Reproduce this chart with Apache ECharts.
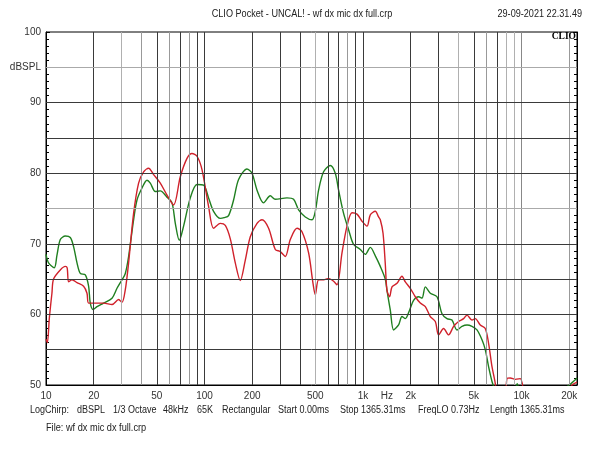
<!DOCTYPE html>
<html><head><meta charset="utf-8">
<script src="https://cdn.jsdelivr.net/npm/echarts@6/dist/echarts.min.js"></script>
<style>html,body{margin:0;padding:0;background:#fff}#c{width:600px;height:450px}</style>
</head><body><div id="c"></div>
<script>
// ---- data ----
const freqGreen = [10,10.38,11.28,11.73,12.31,13.24,14.23,14.93,15.69,16.46,17.70,18.57,19.03,19.80,20.98,23.09,26.09,28.05,30.16,31.65,33.20,35.70,37.51,40.34,43.38,45.50,48.93,52.62,58.00,62.37,65.44,69.34,73.81,81.36,89.67,98.70,106.1,114.1,125.8,133,141.9,152.6,164.1,185.4,199.4,214.5,236.0,260.1,279.7,331.5,364.9,392.4,432.5,476.8,500.1,524.7,564.1,621.8,668.6,701.6,754.4,811.2,872.4,961.6,1034,1112,1196,1286,1382,1417,1487,1560,1677,1762,1849,1968,2085,2243,2357,2473,2658,2930,3151,3388,3643,3918,4214,4532,4872,5239,5634,5909,6200,6515,6835,7200,8800,9400,10000,15000,19500,20300,21500,22400];
const dbGreen   = [68.5,67.3,66.6,68.4,70.6,71.1,70.9,69.6,67.3,65.8,65.6,64.0,61.6,60.7,61.1,61.6,62.3,63.7,64.9,65.8,68.2,73.4,76.2,77.9,79.0,78.6,77.4,77.5,76.6,75.8,72.9,70.5,72.5,76.5,78.4,78.3,76.5,74.6,73.6,73.7,74.0,76.2,79.1,80.6,80.0,77.6,75.8,76.8,76.3,76.5,76.3,74.8,73.8,73.4,74.6,77.6,80.2,81.1,80.0,77.6,74.3,72.0,69.9,69.2,68.5,69.5,68.3,66.8,65.0,63.4,60.6,57.8,58.5,59.7,59.4,60.6,62.0,62.5,62.3,63.9,63.0,62.5,60.1,59.4,59.2,57.8,58.3,58.5,58.3,57.8,56.4,55.0,52.6,50.5,49.0,46.0,48.0,50.2,48.0,45.0,49.8,50.1,50.6,51.0];
const freqRed = [10,10.2,10.5,10.9,11.16,12.31,13.24,13.6,13.89,14.59,15.69,17.27,18.14,18.57,20.47,23.09,26.09,28.71,30.16,31.65,33.20,35.70,38.39,41.29,44.40,47.74,52.62,58.00,63.83,70.36,77.55,83.39,89.67,96.43,106.1,114.1,125.8,135.3,145.5,156.4,168.2,180.9,194.5,214.5,230.6,253.8,279.7,300.8,323.4,347.8,383.4,412.2,453.8,483.7,500.1,524.7,564.1,606.7,652.3,685.5,737.1,792.6,852.3,916.6,985.6,1060,1112,1196,1254,1286,1338,1382,1417,1472,1524,1639,1762,1849,1988,2138,2299,2473,2658,2859,2999,3226,3468,3729,4010,4313,4532,4872,5111,5497,5909,6200,6515,6835,7100,7800,8101,8500,9140,9826,10310,10700,18000,20500,22400];
const dbRed   = [56.5,56.0,59.5,63.0,65.0,66.3,66.8,66.6,64.6,64.9,64.5,64.0,63.0,61.6,61.6,61.6,61.4,62.1,61.7,63.5,67.3,74.3,78.6,80.2,80.7,79.8,78.6,76.9,75.5,79.5,82.1,82.8,82.4,80.5,75.3,72.2,72.9,72.6,70.7,67.3,64.8,67.7,71.0,72.9,73.4,72.2,69.2,68.9,68.2,70.6,72.2,71.7,68.7,64.4,62.8,64.9,64.9,65.1,64.7,64.2,68.7,72.5,74.4,74.2,73.2,72.5,74.1,74.6,73.8,73.4,71.5,67.2,63.4,62.5,63.9,64.4,65.4,64.6,63.7,62.5,61.6,61.1,59.7,59.0,57.1,58.0,57.1,58.3,59.0,59.4,59.9,59.2,59.4,58.5,58.0,55.9,52.6,50.2,47.0,47.0,50.9,51.0,50.8,50.9,49.0,46.0,46.0,49.8,50.4];
const xTickFreqs  = [10,20,50,100,200,500,1000,1414,2000,5000,10000,20000];
const xTickLabels = ['10','20','50','100','200','500','1k','Hz','2k','5k','10k','20k'];
const yTickValues = [50,60,70,80,90,95,100];
const yTickLabels = ['50','60','70','80','90','dBSPL','100'];
const gridFreqs  = [20,30,40,50,60,70,80,90,100,200,300,400,500,600,700,800,900,1000,2000,3000,4000,5000,6000,7000,8000,9000,10000,20000];
const gridLevels = [55,60,65,70,75,80,85,90,95];
const titleText = 'CLIO Pocket - UNCAL! - wf dx mic dx full.crp';
const dateText = '29-09-2021 22.31.49';
const footerTexts = ['LogChirp:','dBSPL','1/3 Octave','48kHz','65K','Rectangular','Start 0.00ms','Stop 1365.31ms','FreqLO 0.73Hz','Length 1365.31ms'];
const fileText = 'File: wf dx mic dx full.crp';

// ---- layout / style ----
const FONT = '"Liberation Sans", Arial, sans-serif';
const XMAX = 22400;
const lightV = {30:'#b0b0b0',40:'#999',60:'#999',80:'#999',500:'#b0b0b0',800:'#999',4000:'#b0b0b0',6000:'#999',8000:'#b0b0b0',9000:'#b0b0b0',10000:'#888',20000:'#999'};
const lightH = {75:'#aaa',95:'#aaa'};
const footerX = [30,77,113,163,197,222,278,340,418,490];

const gridLines = [];
gridFreqs.forEach(f => gridLines.push({xAxis: f, lineStyle:{color: lightV[f] || '#3a3a3a', width:1, type:'solid'}}));
gridLevels.forEach(v => gridLines.push({yAxis: v, lineStyle:{color: lightH[v] || '#3a3a3a', width:1, type:'solid'}}));

const chart = echarts.init(document.getElementById('c'), null, {renderer:'canvas'});
const graphic = [
  {type:'text', x:302, y:14, scaleX:0.91, style:{text:titleText, font:'10px '+FONT, fill:'#222', textAlign:'center', textVerticalAlign:'middle'}},
  {type:'text', x:582, y:14, scaleX:0.91, style:{text:dateText, font:'10px '+FONT, fill:'#222', textAlign:'right', textVerticalAlign:'middle'}},
  {type:'text', x:576, y:37, style:{text:'CLIO', font:'bold 9.5px "Liberation Serif", "Times New Roman", serif', fill:'#000', textAlign:'right', textVerticalAlign:'middle'}, z:10},
  {type:'text', x:46, y:428, scaleX:0.92, style:{text:fileText, font:'10px '+FONT, fill:'#222', textAlign:'left', textVerticalAlign:'middle'}}
];
footerTexts.forEach((t,i) => graphic.push({type:'text', x:footerX[i], y:410, scaleX:0.9, style:{text:t, font:'10px '+FONT, fill:'#222', textAlign:'left', textVerticalAlign:'middle'}}));

chart.setOption({
  animation:false,
  backgroundColor:'#fff',
  grid:{left:46, top:32, width:531, height:353, show:true, borderColor:'#000', borderWidth:1, backgroundColor:'transparent', containLabel:false},
  xAxis:[
    {type:'log', logBase:10, min:10, max:XMAX, position:'bottom', axisLine:{show:true, lineStyle:{color:'#000', width:1}}, axisTick:{show:false}, axisLabel:{show:false}, splitLine:{show:false}},
    {type:'value', min:1, max:Math.log10(XMAX), position:'bottom', axisLine:{show:false}, axisTick:{show:false}, splitLine:{show:false},
     axisLabel:{customValues: xTickFreqs.map(f => Math.log10(f)), fontSize:10, fontFamily:FONT, color:'#333', margin:6,
       formatter: v => { const i = xTickFreqs.findIndex(f => Math.abs(Math.log10(f) - v) < 1e-6); return i >= 0 ? xTickLabels[i] : ''; }}}
  ],
  yAxis:[
    {type:'value', min:50, max:100, interval:5, position:'left', axisLine:{show:true, lineStyle:{color:'#000'}},
     axisTick:{show:true, inside:true, length:4, lineStyle:{color:'#000'}}, minorTick:{show:true, splitNumber:5, length:3, lineStyle:{color:'#000'}},
     splitLine:{show:false},
     axisLabel:{fontSize:10, fontFamily:FONT, color:'#333', margin:5,
       formatter: v => { const i = yTickValues.indexOf(v); return i >= 0 ? yTickLabels[i] : ''; }}},
    {type:'value', min:50, max:100, interval:5, position:'right', axisLine:{show:true, lineStyle:{color:'#000'}},
     axisTick:{show:true, inside:true, length:4, lineStyle:{color:'#000'}}, minorTick:{show:true, splitNumber:5, length:3, lineStyle:{color:'#000'}},
     splitLine:{show:false}, axisLabel:{show:false}}
  ],
  graphic: graphic,
  series:[
    {type:'line', name:'grid', xAxisIndex:0, yAxisIndex:0, data:[], z:1, silent:true,
     markLine:{silent:true, symbol:['none','none'], label:{show:false}, animation:false, data:gridLines}},
    {type:'line', name:'green', xAxisIndex:0, yAxisIndex:0, z:3, showSymbol:false, smooth:0.3, clip:true,
     lineStyle:{color:'#1f7f1f', width:1.4}, itemStyle:{color:'#1f7f1f'},
     data: freqGreen.map((f,i) => [f, dbGreen[i]])},
    {type:'line', name:'red', xAxisIndex:0, yAxisIndex:0, z:4, showSymbol:false, smooth:0.3, clip:true,
     lineStyle:{color:'#d0212b', width:1.4}, itemStyle:{color:'#d0212b'},
     data: freqRed.map((f,i) => [f, dbRed[i]])}
  ]
});
</script></body></html>
